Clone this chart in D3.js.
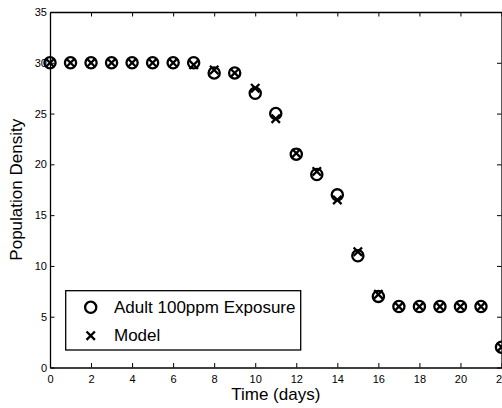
<!DOCTYPE html>
<html>
<head>
<meta charset="utf-8">
<script src="https://cdn.jsdelivr.net/npm/d3@7"></script>
<style>
  html, body { margin: 0; padding: 0; background: #fff; }
  svg { display: block; font-family: "Liberation Sans", Arial, sans-serif; }
</style>
</head>
<body>
<svg id="chart" width="502" height="408"></svg>
<script>
// Data
var days = [0, 1, 2, 3, 4, 5, 6, 7, 8, 9, 10, 11, 12, 13, 14, 15, 16, 17, 18, 19, 20, 21, 22];
var observed = [30, 30, 30, 30, 30, 30, 30, 30, 29, 29, 27, 25, 21, 19, 17, 11, 7, 6, 6, 6, 6, 6, 2];
var model = [30, 30, 30, 30, 30, 30, 30, 29.8, 29.3, 29, 27.5, 24.5, 21.1, 19.3, 16.5, 11.4, 7.2, 6, 6, 6, 6, 6, 2];
var xTicks = [0, 2, 4, 6, 8, 10, 12, 14, 16, 18, 20, 22];
var yTicks = [0, 5, 10, 15, 20, 25, 30, 35];
var legendLabels = ['Adult 100ppm Exposure', 'Model'];

var svg = d3.select('#chart');

// plot box (don't call it "top", that's window.top)
var box = { left: 50, right: 501.5, top: 12, bottom: 367.5 };
var tickLen = 4.5;

var x = d3.scaleLinear().domain([0, 22]).range([box.left, box.right]);
var y = d3.scaleLinear().domain([0, 35]).range([box.bottom, box.top]);

// axes (ticks point inward, mirrored on top/right like matlab)
var xAxis = d3.axisBottom(x).tickValues(xTicks).tickSize(-tickLen).tickPadding(8).tickSizeOuter(0);
var yAxis = d3.axisLeft(y).tickValues(yTicks).tickSize(-tickLen).tickPadding(3).tickSizeOuter(0);

svg.append('g').attr('transform', 'translate(0,' + box.bottom + ')').call(xAxis);
svg.append('g').attr('transform', 'translate(' + box.left + ',0)').call(yAxis);

svg.append('g').attr('transform', 'translate(0,' + box.top + ')')
    .call(d3.axisTop(x).tickValues(xTicks).tickSize(-tickLen).tickFormat('').tickSizeOuter(0));
svg.append('g').attr('transform', 'translate(' + box.right + ',0)')
    .call(d3.axisRight(y).tickValues(yTicks).tickSize(-tickLen).tickFormat('').tickSizeOuter(0));

svg.selectAll('.domain').attr('stroke', '#000').attr('stroke-width', 1.3);
svg.selectAll('.tick line').attr('stroke', '#000').attr('stroke-width', 1);
svg.selectAll('.tick text').attr('fill', '#000').attr('font-size', 11)
    .attr('font-family', '"Liberation Sans", Arial, sans-serif');

// axis labels
svg.append('text')
    .attr('x', (box.left + box.right) / 2).attr('y', 400)
    .attr('text-anchor', 'middle').attr('font-size', 17)
    .text('Time (days)');

svg.append('text')
    .attr('transform', 'translate(21.7,' + (box.top + box.bottom) / 2 + ') rotate(-90)')
    .attr('text-anchor', 'middle').attr('font-size', 17)
    .text('Population Density');

// markers
var r = 5.6, xs = 4.2, mw = 2.3;

function drawCross(g, cx, cy) {
    g.append('path')
        .attr('d', 'M' + (cx - xs) + ',' + (cy - xs) + 'L' + (cx + xs) + ',' + (cy + xs) +
                   'M' + (cx - xs) + ',' + (cy + xs) + 'L' + (cx + xs) + ',' + (cy - xs))
        .attr('stroke', '#000').attr('stroke-width', mw).attr('fill', 'none');
}

var pts = svg.append('g');
pts.selectAll('circle').data(days).enter().append('circle')
    .attr('cx', function(d){ return x(d); })
    .attr('cy', function(d, i){ return y(observed[i]); })
    .attr('r', r)
    .attr('fill', 'none').attr('stroke', '#000').attr('stroke-width', mw);

var crosses = svg.append('g');
days.forEach(function(d, i){ drawCross(crosses, x(d), y(model[i])); });

// legend
var lg = svg.append('g');
lg.append('rect')
    .attr('x', 65.7).attr('y', 290.7).attr('width', 235).attr('height', 59.3)
    .attr('fill', '#fff').attr('stroke', '#000').attr('stroke-width', 1.3);

lg.append('circle').attr('cx', 90.7).attr('cy', 307.3).attr('r', r)
    .attr('fill', 'none').attr('stroke', '#000').attr('stroke-width', mw);
drawCross(lg, 90.7, 335.7);

lg.selectAll('text.leg').data(legendLabels).enter().append('text')
    .attr('class', 'leg')
    .attr('x', 114)
    .attr('y', function(d, i){ return 313 + i * 28.4; })
    .attr('font-size', 17)
    .text(function(d){ return d; });
</script>
</body>
</html>
